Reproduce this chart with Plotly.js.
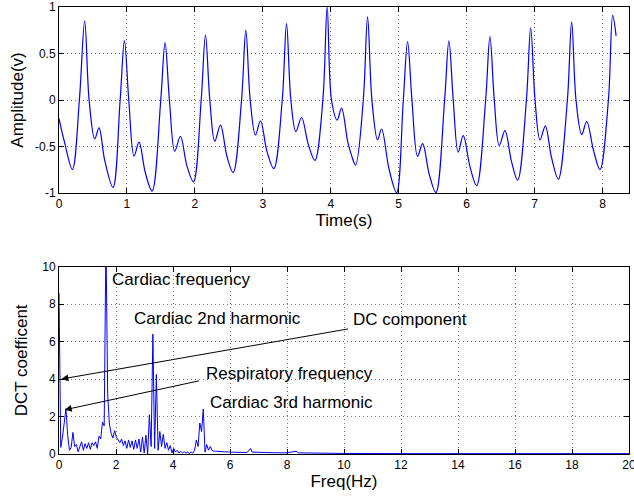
<!DOCTYPE html>
<html>
<head>
<meta charset="utf-8">
<script src="https://cdn.plot.ly/plotly-3.0.1.min.js"></script>
<style>html,body{margin:0;padding:0;background:#fff;}#chart{width:634px;height:498px;}</style>
</head>
<body>
<div id="chart"></div>
<script>
// ---- Top panel: time signal (key points) ----
const timeS = [0.00,0.08,0.197,0.30,0.378,0.443,0.526,0.589,0.673,0.795,
  0.900,0.963,1.027,1.105,1.178,1.27,1.37,1.498,1.561,1.625,1.704,1.788,1.88,1.979,
  2.093,2.156,2.22,2.293,2.377,2.47,2.563,2.687,2.75,2.814,2.892,2.966,3.06,3.162,
  3.286,3.349,3.413,3.486,3.57,3.67,3.766,3.884,3.947,4.011,4.094,4.159,4.25,4.306,4.365,
  4.479,4.542,4.606,4.689,4.748,4.86,4.969,5.068,5.131,5.195,5.278,5.352,5.45,5.548,
  5.676,5.739,5.803,5.876,5.95,6.05,6.147,6.28,6.343,6.407,6.48,6.564,6.66,6.751,
  6.88,6.943,7.007,7.08,7.158,7.25,7.349,7.483,7.546,7.61,7.694,7.767,7.87,7.963,
  8.087,8.15,8.20];
const amplitude = [-0.20,-0.45,-0.748,0.0,0.848,0.0,-0.418,-0.30,-0.65,-0.94,
  0.0,0.638,0.0,-0.603,-0.454,-0.78,-0.979,0.0,0.617,0.0,-0.55,-0.39,-0.70,-0.88,
  0.0,0.699,0.0,-0.443,-0.27,-0.60,-0.78,0.0,0.752,0.0,-0.376,-0.223,-0.55,-0.737,
  0.0,0.822,0.0,-0.34,-0.188,-0.48,-0.649,0.0,1.0,0.0,-0.216,-0.088,-0.45,-0.596,-0.70,
  0.0,0.894,0.0,-0.429,-0.312,-0.75,-0.997,0.0,0.628,0.0,-0.606,-0.47,-0.80,-0.997,
  0.0,0.635,0.0,-0.56,-0.383,-0.72,-0.922,0.0,0.681,0.0,-0.489,-0.33,-0.66,-0.862,
  0.0,0.777,0.0,-0.429,-0.28,-0.62,-0.851,0.0,0.84,0.0,-0.372,-0.231,-0.55,-0.748,
  0.0,0.91,0.69];

// ---- Bottom panel: DCT coefficients ----
const dctStep = 0.061; // Hz per DCT bin
const dctLow = [8.6,0.35,0.9,1.7,2.42,1.0,0.2,0.35,1.15,0.4,
  0.5,0.12,0.35,0.65,0.2,0.55,0.3,0.6,0.25,0.6,
  0.45,0.65,0.3,0.95,0.8,1.7,1.5,11.5,3.2,1.6,
  1.1,0.85,1.25,0.9,0.75,0.6,0.8,0.45,0.7,0.3,
  0.75,0.35,0.7,0.25,0.75,0.3,0.8,0.1,0.9,0.05,
  1.0,0.0,2.1,0.4,6.4,0.3,4.25,0.2,1.2,0.4,
  1.05,0.3,0.6,0.2,0.45,0.05,0.3,0.1,0.2,0.05,
  0.15,0.05,0.12,0.05,0.1,0.03,0.1,0.05,0.2,0.75,
  0.4,1.65,1.2,2.4,0.1,0.5,0.2,0.4,0.2,0.15,0.15];
const tailFreq = [5.55,5.8,6.0,6.3,6.6,6.68,6.72,6.78,7.0,7.5,8.0,8.25,8.32,8.4,9.0,10,12,14,16,18,20];
const tailVal  = [0.15,0.12,0.1,0.08,0.08,0.22,0.3,0.1,0.08,0.07,0.06,0.12,0.15,0.06,0.04,0.03,0.02,0.02,0.02,0.02,0.02];

const freq = dctLow.map((v,i)=> +(i*dctStep).toFixed(3)).concat(tailFreq);
const coef = dctLow.concat(tailVal);

const xTicksTop = [0,1,2,3,4,5,6,7,8];
const yTicksTop = [-1,-0.5,0,0.5,1];
const yTickTextTop = ['-1','-0.5','0','0.5','1'];
const xTicksBot = [0,2,4,6,8,10,12,14,16,18,20];
const yTicksBot = [0,2,4,6,8,10];

const FONT = 'Liberation Sans, Arial, Helvetica, sans-serif';
const axBase = {
  showline:true, linecolor:'#000', linewidth:1, mirror:'ticks',
  ticks:'inside', ticklen:5, tickcolor:'#000', tickwidth:1,
  showgrid:true, gridcolor:'#777', griddash:'1px,3px', gridwidth:1,
  zeroline:false, ticklabeloverflow:'allow',
  tickfont:{family:FONT, size:12, color:'#000'}
};

const traces = [
  {x:timeS, y:amplitude, type:'scatter', mode:'lines',
   line:{color:'#0000ff', width:1.2, shape:'spline', smoothing:1}, xaxis:'x', yaxis:'y', hoverinfo:'skip'},
  {x:freq, y:coef, type:'scatter', mode:'lines',
   line:{color:'#0000ff', width:1}, xaxis:'x2', yaxis:'y2', hoverinfo:'skip'}
];

const annFont = {family:FONT, size:17, color:'#000'};
const annotations = [
  {xref:'x2', yref:'y2', x:1.78, y:9.33, text:'Cardiac frequency', showarrow:false, xanchor:'left', yanchor:'middle', font:annFont},
  {xref:'x2', yref:'y2', x:2.56, y:7.21, text:'Cardiac 2nd harmonic', showarrow:false, xanchor:'left', yanchor:'middle', font:annFont},
  {xref:'x2', yref:'y2', x:10.25, y:7.16, text:'DC component', showarrow:false, xanchor:'left', yanchor:'middle', font:annFont},
  {xref:'x2', yref:'y2', x:5.08, y:4.28, text:'Respiratory frequency', showarrow:false, xanchor:'left', yanchor:'middle', font:annFont},
  {xref:'x2', yref:'y2', x:5.22, y:2.77, text:'Cardiac 3rd harmonic', showarrow:false, xanchor:'left', yanchor:'middle', font:annFont},
  {xref:'x2', yref:'y2', x:0.084, y:4.0, axref:'x2', ayref:'y2', ax:10.16, ay:6.68, text:' ', font:{size:1},
   showarrow:true, arrowhead:2, arrowsize:1.4, arrowwidth:1, arrowcolor:'#000', standoff:0, startstandoff:0, borderpad:0},
  {xref:'x2', yref:'y2', x:0.2, y:2.36, axref:'x2', ayref:'y2', ax:4.93, ay:3.91, text:' ', font:{size:1},
   showarrow:true, arrowhead:2, arrowsize:1.4, arrowwidth:1, arrowcolor:'#000', standoff:0, startstandoff:0, borderpad:0}
];

const layout = {
  width:634, height:498,
  margin:{l:59, r:5, t:7, b:44},
  paper_bgcolor:'#fff', plot_bgcolor:'#fff',
  showlegend:false,
  font:{family:FONT, color:'#000'},
  xaxis: Object.assign({}, axBase, {domain:[0,1], anchor:'y', range:[0,8.39],
    tickvals:xTicksTop, title:{text:'Time(s)', font:{family:FONT, size:17}, standoff:2}}),
  yaxis: Object.assign({}, axBase, {domain:[0.5839,1], anchor:'x', range:[-1.0001,1.0001],
    tickvals:yTicksTop, ticktext:yTickTextTop, title:{text:'Amplitude(v)', font:{family:FONT, size:17}, standoff:6}}),
  xaxis2: Object.assign({}, axBase, {domain:[0,1], anchor:'y2', range:[0,20.0001],
    tickvals:xTicksBot, title:{text:'Freq(Hz)', font:{family:FONT, size:17}, standoff:2}}),
  yaxis2: Object.assign({}, axBase, {domain:[0,0.4191], anchor:'x2', range:[0,10],
    tickvals:yTicksBot, title:{text:'DCT coefficent', font:{family:FONT, size:17}, standoff:10}}),
  annotations: annotations
};

Plotly.newPlot('chart', traces, layout, {displayModeBar:false, staticPlot:true});
</script>
</body>
</html>
